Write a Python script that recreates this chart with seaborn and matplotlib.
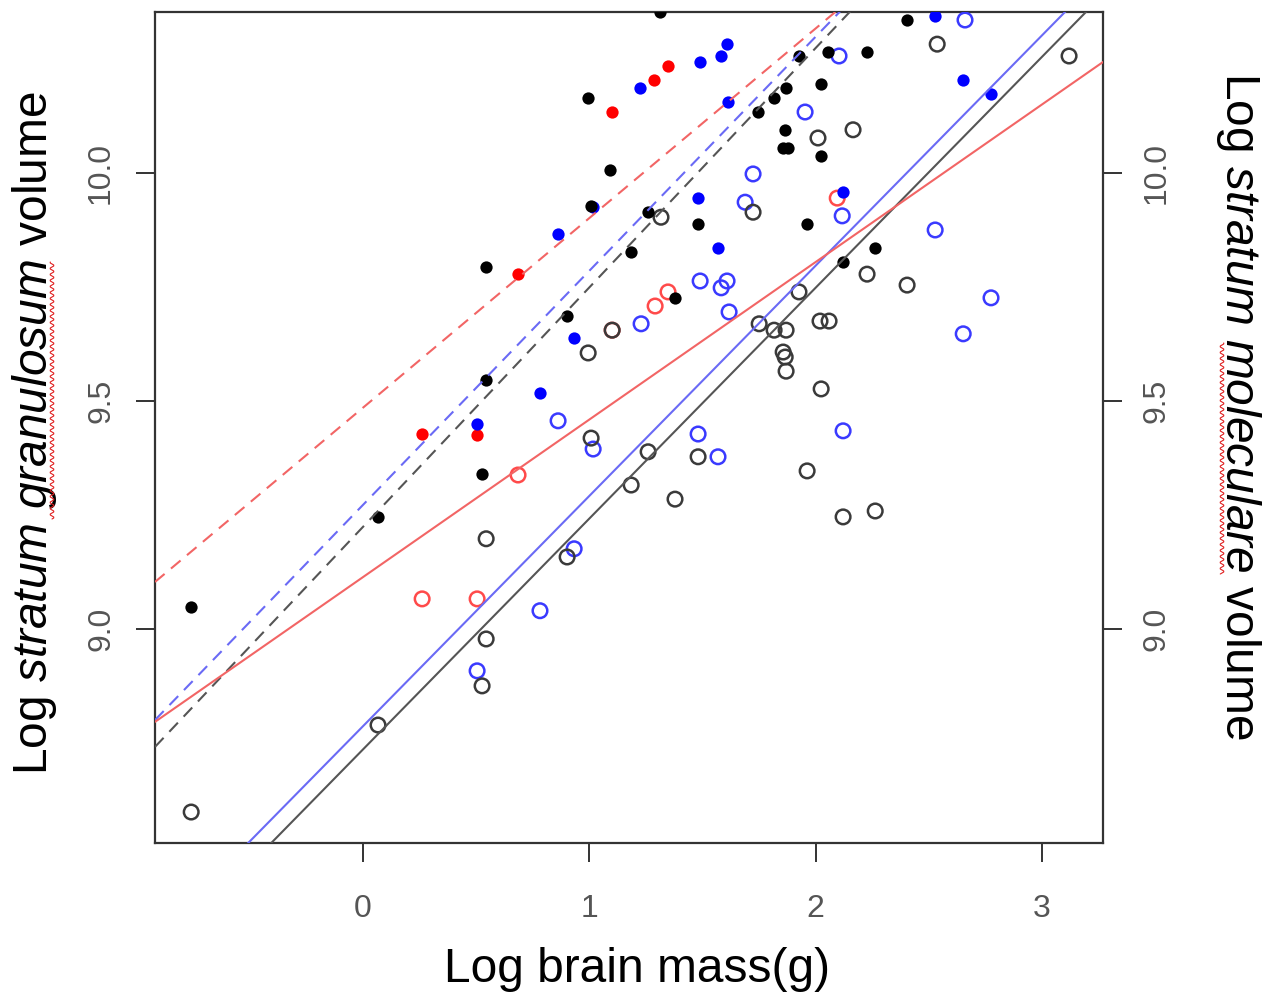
import numpy as np
import pandas as pd
import matplotlib
matplotlib.use("Agg")
import matplotlib.pyplot as plt
from matplotlib.lines import Line2D
import seaborn as sns

# ---------------- data ----------------
# stratum granulosum (filled points)
gran_black_x = [-0.760, 0.066, 0.544, 0.544, 0.526, 0.902, 0.995, 1.008, 1.092, 1.185,
                1.260, 1.313, 1.379, 1.481, 1.746, 1.817, 1.870, 1.866, 1.857, 1.879,
                1.927, 1.963, 2.025, 2.025, 2.056, 2.122, 2.228, 2.264, 2.405]
gran_black_y = [9.048, 9.246, 9.795, 9.547, 9.340, 9.687, 10.166, 9.929, 10.008, 9.828,
                9.915, 10.355, 9.727, 9.889, 10.135, 10.166, 10.188, 10.096, 10.056, 10.056,
                10.258, 9.889, 10.196, 10.038, 10.267, 9.806, 10.267, 9.836, 10.337]
gran_blue_x = [0.504, 0.782, 0.862, 0.933, 1.017, 1.225, 1.490, 1.481, 1.569, 1.583,
               1.609, 1.614, 2.122, 2.529, 2.653, 2.776]
gran_blue_y = [9.450, 9.518, 9.867, 9.639, 9.926, 10.188, 10.245, 9.946, 9.836, 10.258,
               10.284, 10.157, 9.959, 10.346, 10.205, 10.175]
gran_red_x = [0.261, 0.504, 0.685, 1.101, 1.286, 1.348]
gran_red_y = [9.428, 9.426, 9.779, 10.135, 10.205, 10.236]

# stratum moleculare (open points)
mol_black_x = [-0.760, 0.066, 0.544, 0.544, 0.526, 0.902, 0.995, 1.008, 1.101, 1.185,
               1.260, 1.317, 1.379, 1.481, 1.724, 1.751, 1.817, 1.870, 1.857, 1.866,
               1.870, 1.927, 1.963, 2.011, 2.020, 2.060, 2.025, 2.122, 2.166, 2.228,
               2.264, 2.405, 2.538, 3.121]
mol_black_y = [8.598, 8.789, 9.198, 8.978, 8.875, 9.158, 9.606, 9.419, 9.656, 9.316,
               9.389, 9.904, 9.285, 9.378, 9.915, 9.670, 9.656, 9.656, 9.608, 9.597,
               9.566, 9.740, 9.347, 10.078, 9.676, 9.676, 9.527, 9.246, 10.096, 9.779,
               9.259, 9.755, 10.284, 10.258]
mol_blue_x = [0.504, 0.782, 0.862, 0.933, 1.017, 1.229, 1.481, 1.490, 1.569, 1.583,
              1.609, 1.618, 1.689, 1.724, 1.954, 2.104, 2.118, 2.122, 2.529, 2.653,
              2.661, 2.776]
mol_blue_y = [8.908, 9.040, 9.457, 9.176, 9.395, 9.670, 9.428, 9.764, 9.378, 9.749,
              9.764, 9.696, 9.937, 9.999, 10.135, 10.258, 9.907, 9.435, 9.876, 9.648,
              10.337, 9.727]
mol_red_x = [0.261, 0.504, 0.685, 1.101, 1.291, 1.348, 2.096]
mol_red_y = [9.066, 9.066, 9.338, 9.656, 9.709, 9.740, 9.946]

# fitted lines: (intercept, slope) per group
line_groups = ["black", "blue", "red"]
gran_intercept = [9.2244, 9.2726, 9.486]
gran_slope = [0.5254, 0.5137, 0.4161]
mol_intercept = [8.7357, 8.7867, 9.114]
mol_slope = [0.5066, 0.5053, 0.3457]

x_ticks = [0, 1, 2, 3]
y_ticks = [9.0, 9.5, 10.0]
y_ticklabels = ["9.0", "9.5", "10.0"]

# ---------------- styling ----------------
sns.set_style("white")
plt.rcParams["font.family"] = ["Liberation Sans", "DejaVu Sans"]
plt.rcParams["mathtext.fontset"] = "custom"
plt.rcParams["mathtext.rm"] = "Liberation Sans"
plt.rcParams["mathtext.it"] = "Liberation Sans:italic"

W, H = 1266, 994
fig = plt.figure(figsize=(W / 100, H / 100), dpi=100)
ax = fig.add_axes([155 / W, 1 - 843 / H, (1103 - 155) / W, (843 - 12) / H])
xlim = (-0.920, 3.271)
ylim = (8.530, 10.3546)
ax.set_xlim(*xlim)
ax.set_ylim(*ylim)

point_col = {"black": "#000000", "blue": "#0000ff", "red": "#ff0000"}
open_col = {"black": "#3a3a3a", "blue": "#3a3aff", "red": "#ff4a4a"}
line_col = {"black": "#555555", "blue": "#6a6af5", "red": "#f26565"}

mol = {"black": (mol_black_x, mol_black_y), "blue": (mol_blue_x, mol_blue_y),
       "red": (mol_red_x, mol_red_y)}
gran = {"black": (gran_black_x, gran_black_y), "blue": (gran_blue_x, gran_blue_y),
        "red": (gran_red_x, gran_red_y)}

# open circles
for g in ["red", "blue", "black"]:
    df = pd.DataFrame({"x": mol[g][0], "y": mol[g][1]})
    sns.scatterplot(data=df, x="x", y="y", ax=ax, marker="o", s=110,
                    facecolor="none", edgecolor=open_col[g], linewidth=1.8,
                    legend=False, zorder=3)
# filled points
for g in ["red", "blue", "black"]:
    df = pd.DataFrame({"x": gran[g][0], "y": gran[g][1]})
    sns.scatterplot(data=df, x="x", y="y", ax=ax, marker="o", s=78,
                    color=point_col[g], edgecolor=point_col[g], linewidth=0,
                    legend=False, zorder=4)

# regression lines
xs = np.linspace(xlim[0], xlim[1], 50)
for i, g in enumerate(line_groups):
    sns.lineplot(x=xs, y=gran_intercept[i] + gran_slope[i] * xs, ax=ax,
                 color=line_col[g], linewidth=1.5, dashes=False, zorder=5)
    ax.lines[-1].set_dashes([6, 4])
    sns.lineplot(x=xs, y=mol_intercept[i] + mol_slope[i] * xs, ax=ax,
                 color=line_col[g], linewidth=1.5, zorder=5)

# ---------------- axes ----------------
for sp in ax.spines.values():
    sp.set_visible(True)
    sp.set_color("#333333")
    sp.set_linewidth(1.6)

ax.set_xticks(x_ticks)
ax.set_xticklabels([str(t) for t in x_ticks])
ax.set_yticks(y_ticks)
ax.set_yticklabels(y_ticklabels, rotation=90, va="center")
ax.tick_params(axis="x", direction="out", length=14, width=1.4, color="#333333",
               pad=23, labelsize=23, labelcolor="#555555", bottom=True)
ax.tick_params(axis="y", direction="out", length=14, width=1.4, color="#333333",
               labelsize=23, labelcolor="#555555", left=True, right=True,
               labelleft=True, labelright=True)
for t in ax.yaxis.get_major_ticks():
    t.label1.set_rotation(90)
    t.label1.set_va("center")
    t.label2.set_rotation(90)
    t.label2.set_va("center")
    t.set_pad(14)

ax.set_xlabel("Log brain mass(g)", fontsize=34.5, color="black")
ax.xaxis.set_label_coords((637 - 155) / 948, (843 - 970) / 831)
ax.xaxis.label.set_va("center")

ax.set_ylabel(r"Log $\mathit{stratum}$ $\mathit{granulosum}$ volume", fontsize=34.5,
              color="black")
ax.yaxis.set_label_coords((35 - 155) / 948, (843 - 433) / 831)
ax.yaxis.label.set_va("center")

fig.text(1238 / W, 1 - 406 / H,
         r"Log $\mathit{stratum}$ $\mathit{moleculare}$ volume", fontsize=34.5,
         rotation=-90, ha="center", va="center", color="black")

# spell-check style wavy underlines
def squiggle(xc, y0, y1):
    ys = np.arange(y0, y1, 1.0)
    xw = xc + 2.0 * np.sin(ys / 6.0 * 2 * np.pi)
    fig.add_artist(Line2D(xw / W, 1 - ys / H, transform=fig.transFigure,
                          color="#e02020", linewidth=0.8))

squiggle(52, 262, 520)
squiggle(1222, 343, 575)

fig.savefig("out.png", dpi=100)
